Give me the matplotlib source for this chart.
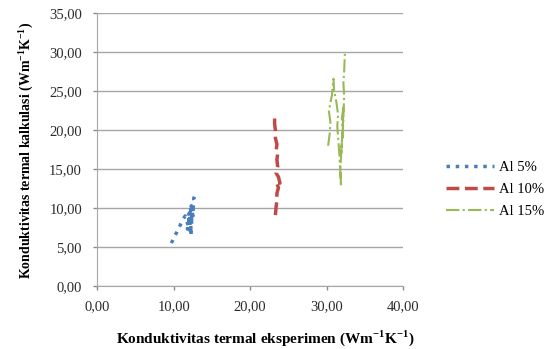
import numpy as np
import matplotlib.pyplot as plt

plt.rcParams['font.family'] = ['Liberation Serif', 'DejaVu Serif']
plt.rcParams['mathtext.fontset'] = 'custom'
plt.rcParams['mathtext.rm'] = 'Liberation Serif'
plt.rcParams['mathtext.bf'] = 'Liberation Serif:bold'

# Al 5%
x5 = [9.7, 10.0, 10.4, 10.8, 11.1, 11.5, 11.7, 11.9, 12.0, 11.8, 12.1, 12.2, 12.0, 12.3,
      12.1, 12.4, 12.2, 12.5, 12.3, 12.5, 12.4, 12.6, 12.5, 12.6, 12.7, 12.6, 12.7, 12.8]
y5 = [5.5, 6.2, 6.9, 7.7, 8.4, 9.0, 8.3, 7.8, 8.6, 7.3, 8.9, 7.0, 9.3, 6.6,
      9.6, 7.8, 10.0, 8.5, 10.3, 9.0, 9.8, 10.5, 9.4, 10.8, 11.0, 11.2, 11.5, 11.8]

# Al 10%
x10 = [23.3, 23.4, 23.5, 23.5, 23.7, 23.4, 23.9, 23.7, 23.4, 23.6, 23.5, 23.6, 23.4,
       23.5, 23.3, 23.3, 23.2, 23.2]
y10 = [9.1, 10.2, 11.0, 11.9, 12.6, 13.4, 13.2, 14.0, 14.5, 15.3, 16.2, 17.0, 17.4,
       18.2, 19.0, 20.0, 20.8, 21.5]

# Al 15%
x15 = [30.2, 30.4, 30.5, 30.3, 30.7, 30.9, 31.0, 31.3, 31.5, 31.4, 31.7, 31.9, 31.8,
       32.0, 31.9, 32.1, 32.0, 32.2, 32.1, 32.3, 32.2, 32.3, 32.4]
y15 = [18.0, 19.5, 21.0, 22.5, 24.5, 26.6, 25.0, 23.5, 22.0, 20.5, 16.5, 12.8, 15.0,
       18.5, 17.0, 20.0, 21.5, 23.0, 19.0, 24.5, 26.0, 27.5, 30.0]

labels = ['Al 5%', 'Al 10%', 'Al 15%']
colors = ['#4a7ebb', '#be4b48', '#98b954']

fig = plt.figure(figsize=(5.48, 3.49), dpi=100)
ax = fig.add_axes([0.1776, 0.1805, 0.5578, 0.7814])

ax.plot(x5, y5, ':', color=colors[0], lw=2.5, label=labels[0])
ax.plot(x10, y10, '--', color=colors[1], lw=2.5, label=labels[1])
ax.plot(x15, y15, '-.', color=colors[2], lw=1.5, label=labels[2])

ax.set_xlim(0, 40)
ax.set_ylim(0, 35)
ax.set_xticks(np.arange(0, 41, 10))
ax.set_yticks(np.arange(0, 36, 5))
fmt = lambda v: f'{v:.2f}'.replace('.', ',')
ax.set_xticklabels([fmt(v) for v in ax.get_xticks()])
ax.set_yticklabels([fmt(v) for v in ax.get_yticks()])
ax.tick_params(labelsize=10.5, colors='#8c8c8c', labelcolor='#2b2b2b', length=3, width=1)
ax.tick_params(axis='x', pad=7)
ax.tick_params(axis='y', pad=8)
ax.grid(axis='y', color='#a6a6a6', lw=1)
ax.set_axisbelow(True)
for s in ['top', 'right']:
    ax.spines[s].set_visible(False)
for s in ['left', 'bottom']:
    ax.spines[s].set_color('#a6a6a6')

fig.text(0.484, 0.03, r'Konduktivitas termal eksperimen (Wm$^{\mathbf{-1}}$K$^{\mathbf{-1}}$)',
         ha='center', va='center', fontsize=11, fontweight='bold')
fig.text(0.047, 0.57, r'Konduktivitas termal kalkulasi (Wm$^{\mathbf{-1}}$K$^{\mathbf{-1}}$)',
         ha='center', va='center', rotation=90, fontsize=10, fontweight='bold')

ax.legend(loc='upper left', bbox_to_anchor=(0.79, 0.577), bbox_transform=fig.transFigure,
          frameon=False, fontsize=10.5, handlelength=3.3, labelspacing=0.6,
          handletextpad=0.3)

fig.savefig('out.png', dpi=100)
